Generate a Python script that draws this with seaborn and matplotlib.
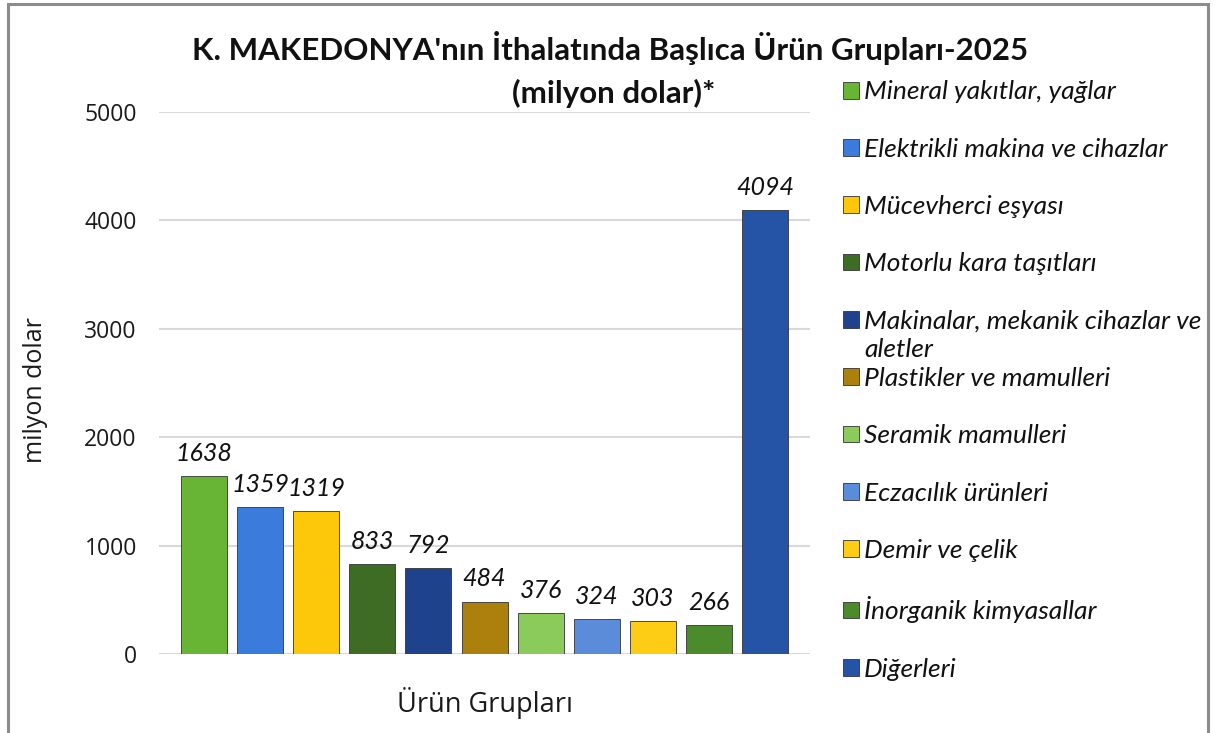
import matplotlib
matplotlib.use("Agg")
import matplotlib.pyplot as plt
import seaborn as sns
import pandas as pd
from matplotlib.patches import Rectangle

categories = [
    "Mineral yakıtlar, yağlar",
    "Elektrikli makina ve cihazlar",
    "Mücevherci eşyası",
    "Motorlu kara taşıtları",
    "Makinalar, mekanik cihazlar ve",
    "Plastikler ve mamulleri",
    "Seramik mamulleri",
    "Eczacılık ürünleri",
    "Demir ve çelik",
    "İnorganik kimyasallar",
    "Diğerleri",
]
values = [1638, 1359, 1319, 833, 792, 484, 376, 324, 303, 266, 4094]
colors = ["#68b536", "#3a7bdc", "#fdc80a", "#3f6c24", "#1f428d", "#ab800d",
          "#8acb5c", "#5b8cd9", "#fdcd16", "#4c8b2b", "#2553a6"]
yticks = [0, 1000, 2000, 3000, 4000, 5000]

title_line1 = "K. MAKEDONYA'nın İthalatında Başlıca Ürün Grupları-2025"
title_line2 = "(milyon dolar)*"
ylabel = "milyon dolar"
xlabel = "Ürün Grupları"
wrap_tail = "aletler"

sns.set_theme(style="white")
plt.rcParams['font.family'] = ['Lato', 'DejaVu Sans']

df = pd.DataFrame({"cat": categories, "val": values})

fig = plt.figure(figsize=(12.15, 7.33), dpi=100)
ax = fig.add_axes([0.1309, 0.1078, 0.5358, 0.7394])

sns.barplot(data=df, x="cat", y="val", hue="cat", palette=colors,
            dodge=False, width=0.82, ax=ax, legend=True,
            edgecolor="#333333", linewidth=0.6, saturation=1)

ax.set_xlim(-0.8, 10.8)
ax.set_ylim(0, 5000)
ax.set_yticks(yticks)
ax.set_yticklabels([str(t) for t in yticks], fontsize=16.5, color="#1a1a1a",
                   fontfamily="Open Sans")
ax.tick_params(axis="y", length=0, pad=16)
ax.set_xticks([])
ax.grid(axis="y", color="#d9d9d9", linewidth=1.5)
ax.set_axisbelow(True)
for s in ax.spines.values():
    s.set_visible(False)

ax.set_ylabel(ylabel, fontsize=18, fontfamily="Open Sans", color="#1a1a1a")
ax.yaxis.set_label_coords(-0.17, 0.487)
ax.set_xlabel(xlabel, fontsize=19.5, fontfamily="Open Sans", color="#1a1a1a", labelpad=24)

for cont in ax.containers:
    ax.bar_label(cont, fmt="%d", padding=8, fontsize=18, fontstyle="italic", color="#111111")

handles, labels = ax.get_legend_handles_labels()
if ax.get_legend():
    ax.get_legend().remove()
leg = fig.legend(handles, labels, loc="upper left", bbox_to_anchor=(0.685, 0.9046),
                 frameon=False, prop={"style": "italic", "size": 19},
                 handlelength=0.6, handleheight=0.6, handletextpad=0.2,
                 labelspacing=1.30, borderaxespad=0)
for t in leg.get_texts():
    t.set_color("#111111")
leg_text = leg.get_texts()[4]
fig.canvas.draw()
ax.annotate(wrap_tail, xy=(0, 0), xycoords=leg_text, xytext=(0, -4),
            textcoords="offset points", va="top", ha="left",
            fontsize=19, fontstyle="italic", color="#111111")

fig.text(0.502, 0.934, title_line1, ha="center", va="center",
         fontsize=22.5, fontweight="bold", color="#111111")
fig.text(0.505, 0.872, title_line2, ha="center", va="center",
         fontsize=22.5, fontweight="bold", color="#111111")

fig.patches.append(Rectangle((8 / 1215, -0.05), (1208 - 8) / 1215, 1.05 - 4 / 733,
                             transform=fig.transFigure, fill=False,
                             edgecolor="#8c8c8c", linewidth=2.2, figure=fig))

fig.savefig("out.png", dpi=100)
